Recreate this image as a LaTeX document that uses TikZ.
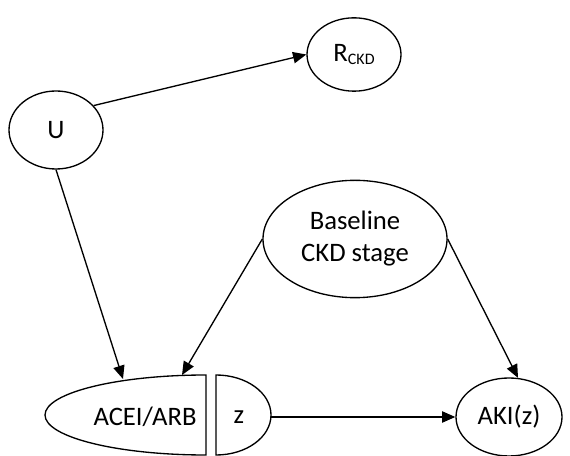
\documentclass[tikz,border=0pt]{standalone}
\usepackage{fontspec}
\setmainfont{Carlito}
\usetikzlibrary{shapes.geometric,arrows.meta}
\begin{document}
\begin{tikzpicture}[x=0.75pt,y=0.75pt,
  every node/.style={font=\fontsize{20}{24}\selectfont},
  ell/.style={draw,ellipse,line width=1pt,inner sep=0pt,align=center},
  piece/.style={draw,line width=1pt},
  conn/.style={line width=1pt,-{Triangle[length=10pt,width=8.5pt]}}]
\useasboundingbox (0,0) rectangle (570,456);
\node[ell,minimum width=70.5pt,minimum height=58.5pt] (U) at (56,326) {U};
\node[ell,minimum width=70.5pt,minimum height=55pt] (R) at (354,401.5)
  {R\raisebox{-2.4pt}{\fontsize{12}{12}\selectfont CKD}};
\node[ell,minimum width=138pt,minimum height=88pt] (B) at (355,217) {Baseline\\CKD stage};
\node[ell,minimum width=79.5pt,minimum height=58.5pt] (AKI) at (509,39) {AKI(z)};
% ACEI/ARB split shape
\draw[piece] (206,81) arc[start angle=90,end angle=270,x radius=120.75pt,y radius=30pt] -- cycle;
\draw[piece] (216,81) arc[start angle=90,end angle=-90,x radius=41.25pt,y radius=30pt] -- cycle;
\node (acei) at (145,39) {ACEI/ARB};
\node (z) at (239,39) {z};
\coordinate (acein1) at (123,77);
\coordinate (acein2) at (182,81);
\coordinate (zeast) at (271,39);
% connectors
\draw[conn] (U.33) -- (R.west);
\draw[conn] (U.south) -- (acein1);
\draw[conn] (B.west) -- (acein2);
\draw[conn] (B.east) -- (AKI.77);
\draw[conn] (zeast) -- (AKI.west);
\end{tikzpicture}
\end{document}
